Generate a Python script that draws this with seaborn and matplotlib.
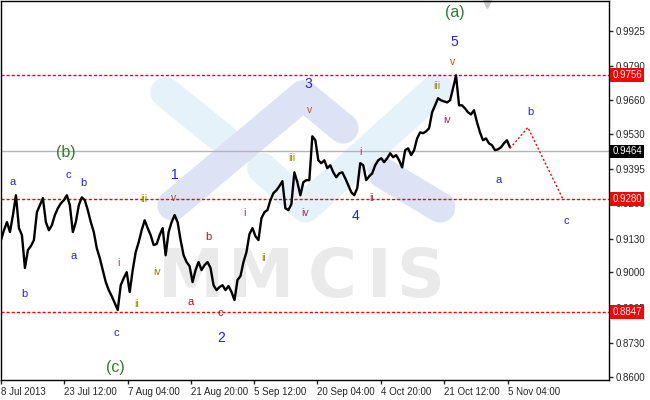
import numpy as np
import matplotlib
matplotlib.use('Agg')
import matplotlib.pyplot as plt
import matplotlib.transforms as mtransforms
import seaborn as sns

# closing prices, one value every 3 H4 bars
close_prices = [
    0.9124, 0.9162, 0.9193, 0.9155, 0.9220, 0.9296, 0.9170, 0.9143, 0.9017, 0.9086,
    0.9101, 0.9124, 0.9231, 0.9258, 0.9285, 0.9193, 0.9162, 0.9181, 0.9220, 0.9246,
    0.9265, 0.9277, 0.9296, 0.9258, 0.9155, 0.9193, 0.9258, 0.9288, 0.9277, 0.9239,
    0.9193, 0.9155, 0.9093, 0.9055, 0.9009, 0.8963, 0.8932, 0.8909, 0.8883, 0.8856,
    0.8951, 0.8978, 0.9001, 0.8925, 0.9009, 0.9078, 0.9116, 0.9162, 0.9200, 0.9170,
    0.9143, 0.9105, 0.9109, 0.9143, 0.9170, 0.9066, 0.9155, 0.9193, 0.9220, 0.9193,
    0.9124, 0.9066, 0.9040, 0.9024, 0.8963, 0.9009, 0.9040, 0.9009, 0.9028, 0.9040,
    0.9017, 0.8951, 0.8932, 0.8944, 0.8951, 0.8932, 0.8948, 0.8925, 0.8894, 0.8971,
    0.8986, 0.9040, 0.9078, 0.9147, 0.9170, 0.9139, 0.9124, 0.9208, 0.9231, 0.9239,
    0.9277, 0.9304, 0.9315, 0.9331, 0.9350, 0.9246, 0.9239, 0.9262, 0.9384, 0.9346,
    0.9296, 0.9346, 0.9354, 0.9354, 0.9522, 0.9507, 0.9430, 0.9419, 0.9430, 0.9400,
    0.9411, 0.9384, 0.9365, 0.9380, 0.9384, 0.9361, 0.9334, 0.9308, 0.9296, 0.9323,
    0.9419, 0.9411, 0.9354, 0.9369, 0.9380, 0.9411, 0.9430, 0.9438, 0.9423, 0.9438,
    0.9457, 0.9442, 0.9450, 0.9430, 0.9403, 0.9469, 0.9476, 0.9450, 0.9469, 0.9514,
    0.9537, 0.9534, 0.9541, 0.9553, 0.9614, 0.9641, 0.9668, 0.9660, 0.9656, 0.9652,
    0.9660, 0.9706, 0.9756, 0.9641, 0.9641, 0.9629, 0.9614, 0.9606, 0.9622, 0.9576,
    0.9537, 0.9507, 0.9514, 0.9495, 0.9488, 0.9469, 0.9472, 0.9480, 0.9495, 0.9507,
    0.9480,
]
bar_step = 3
bars = np.arange(len(close_prices)) * bar_step

# forecast path (b up, then c down)
proj_bars = [510, 528, 563]
proj_prices = [0.9476, 0.9556, 0.9282]

level_prices = [0.9756, 0.9280, 0.8847]
current_price = 0.9464

ytick_values = [0.8600, 0.8730, 0.8865, 0.9000, 0.9130, 0.9265,
                0.9395, 0.9530, 0.9660, 0.9790, 0.9925]
xtick_bars = [0, 63, 127, 190, 254, 317, 381, 444, 508]
xtick_labels = ['8 Jul 2013', '23 Jul 12:00', '7 Aug 04:00', '21 Aug 20:00',
                '5 Sep 12:00', '20 Sep 04:00', '4 Oct 20:00', '21 Oct 12:00',
                '5 Nov 04:00']

# wave marks: text, bar, price, degree
wave_labels = [
    ('(a)', 455, 0.9997, 'major'), ('(b)', 65, 0.9461, 'major'), ('(c)', 115, 0.8634, 'major'),
    ('1', 174, 0.9373, 'num'), ('2', 221, 0.8748, 'num'), ('3', 308, 0.9721, 'num'),
    ('4', 355, 0.9216, 'num'), ('5', 454, 0.9882, 'num'),
    ('a', 12, 0.9346, 'abc'), ('b', 23, 0.8917, 'abc'), ('c', 67, 0.9373, 'abc'),
    ('a', 73, 0.9062, 'abc'), ('b', 83, 0.9342, 'abc'), ('c', 116, 0.8768, 'abc'),
    ('b', 531, 0.9614, 'abc'), ('a', 499, 0.9354, 'abc'), ('c', 567, 0.9197, 'abc'),
    ('a', 190, 0.8885, 'sub'), ('b', 208, 0.9135, 'sub'), ('c', 220, 0.8844, 'sub'),
    ('i', 118, 0.9036, 'r1'), ('ii', 136, 0.8879, 'r2'), ('iii', 143, 0.9281, 'r2'),
    ('iv', 156, 0.9001, 'r2'), ('v', 173, 0.9285, 'r5'),
    ('i', 244, 0.9227, 'r1'), ('ii', 263, 0.9055, 'r2'), ('iii', 291, 0.9438, 'r2'),
    ('iv', 305, 0.9227, 'r1'), ('v', 309, 0.9622, 'r5'),
    ('i', 360, 0.9461, 'r1'), ('ii', 371, 0.9285, 'r1'),
    ('iii', 437, 0.9714, 'r2'), ('iv', 447, 0.9583, 'r1'), ('v', 453, 0.9806, 'r5'),
]
label_style = {
    'major': ('#2d7d2d', 11.5),
    'num': ('#1f1fff', 10),
    'abc': ('#1f1fff', 8),
    'sub': ('#9b1c1c', 8),
    'r1': ('#993366', 7.5),
    'r2': ('#9c8400', 7.5),
    'r5': ('#b5561b', 7.5),
}

sns.set_style('white')
plt.rcParams['font.family'] = ['Liberation Sans', 'DejaVu Sans']

fig = plt.figure(figsize=(6.5, 4), dpi=100)
ax = fig.add_axes([0.0015, 0.05, 0.935, 0.9485])

# watermark logo
def px(x, y):
    return x / 609, 1 - y / 380

blue_wm = '#e5f2fa'
lav_wm = '#dde2f5'
for pts, col in [([(165, 92), (222, 138)], blue_wm),
                 ([(262, 168), (305, 207), (437, 88)], blue_wm),
                 ([(172, 205), (303, 95), (343, 128)], lav_wm),
                 ([(383, 173), (440, 207)], lav_wm)]:
    xy = [px(*p) for p in pts]
    ax.plot([p[0] for p in xy], [p[1] for p in xy], color=col, lw=22,
            solid_capstyle='round', solid_joinstyle='round',
            transform=ax.transAxes, zorder=0)
for ch, cx in zip('MMCIS', [190, 261, 332, 379, 420]):
    ax.text(*px(cx, 278), ch, transform=ax.transAxes, fontsize=48,
            family='DejaVu Sans', fontweight='bold', color='#eaeaea',
            ha='center', va='center', zorder=0)

# levels
for lv in level_prices:
    ax.axhline(lv, color='red', lw=1, dashes=(2.2, 1.5), zorder=1)
ax.axhline(current_price, color='#b4b4b4', lw=1, zorder=1)

sns.lineplot(x=bars, y=close_prices, ax=ax, color='black', linewidth=1.7, zorder=3)
ax.plot(proj_bars, proj_prices, color='red', lw=1, dashes=(1.5, 1.5), zorder=3)

for txt, b, p, kind in wave_labels:
    col, fs = label_style[kind]
    ax.text(b, p, txt, color=col, fontsize=fs, ha='center', va='center', zorder=4)

ax.set_xlim(0, 609)
ax.set_ylim(0.85874, 1.00426)
ax.set_xticks(xtick_bars)
ax.set_xticklabels(xtick_labels)
for lab in ax.get_xticklabels():
    lab.set_ha('left')
ax.set_yticks(ytick_values)
ax.set_yticklabels([f'{v:.4f}' for v in ytick_values])
ax.yaxis.tick_right()
ax.tick_params(axis='y', right=True, left=False, length=3, width=1, pad=2, labelsize=7)
ax.tick_params(axis='x', bottom=True, length=3, width=1, pad=2, labelsize=7)
ax.set_xlabel('')
ax.set_ylabel('')
for sp in ax.spines.values():
    sp.set_color('black')
    sp.set_linewidth(1)

# price boxes on the right scale
tr = mtransforms.blended_transform_factory(ax.transAxes, ax.transData)
for lv, bg in [(0.9756, 'red'), (0.9280, 'red'), (0.8847, 'red'), (current_price, 'black')]:
    ax.text(1.006, lv, f'{lv:.4f}', transform=tr, color='white', fontsize=7,
            ha='left', va='center', zorder=10, clip_on=False,
            bbox=dict(boxstyle='square,pad=0.2', fc=bg, ec='none'))

ax.plot([487], [1.0030], marker='v', color='#c8c8c8', markersize=6, zorder=2, clip_on=False)

fig.savefig('out.png', dpi=100)
